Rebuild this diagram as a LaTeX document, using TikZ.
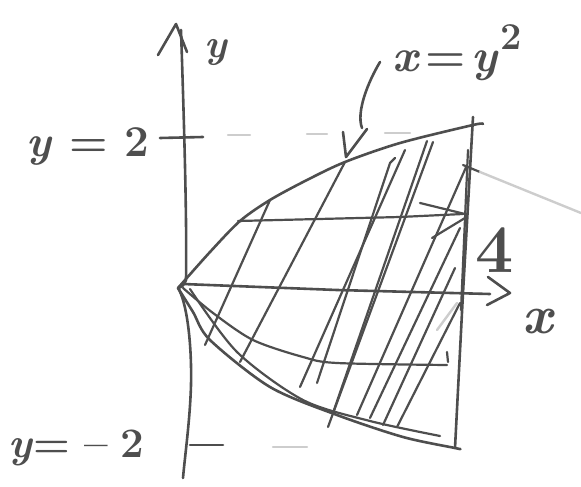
\documentclass[tikz,border=0pt]{standalone}
\definecolor{inkc}{RGB}{78,78,78}
\definecolor{faintc}{RGB}{205,205,205}
\begin{document}
\begin{tikzpicture}[x=1pt,y=-1pt,
  ink/.style={draw=inkc,line width=2.6pt,line cap=round,line join=round},
  hatch/.style={draw=inkc,line width=2.2pt,line cap=round,line join=round},
  faint/.style={draw=faintc,line width=2.4pt,line cap=round},
  lbl/.style={text=inkc,inner sep=0pt,font=\bfseries}]
\useasboundingbox (0,0) rectangle (581,487);
% key points
\coordinate (O) at (178,288);
\coordinate (TR) at (473,125);
\coordinate (BR) at (455,448);
% y axis
\draw[ink] (181,30) .. controls (184,120) and (187,220) .. (186,280)
  .. controls (185,285) and (180,288) .. (O)
  .. controls (186,300) and (192,340) .. (191,385)
  .. controls (190,420) and (185,455) .. (183,478);
\draw[ink] (158,55) -- (176,24) -- (187,52);
% x axis
\draw[ink] (183,284) -- (337,290) -- (490,294);
\draw[ink] (488,277) -- (510,293) -- (487,305);
% ticks and dashes
\draw[ink] (160,138) -- (203,137);
\draw[ink] (190,445) -- (223,445);
\draw[faint] (228,135) -- (250,135);
\draw[faint] (307,134) -- (327,134);
\draw[faint] (385,133) -- (410,133);
\draw[faint] (273,447) -- (307,447);
% parabola x = y^2
\draw[ink] plot[smooth] coordinates {(O) (210,252) (240,221) (270,200) (307,180) (345,162) (400,143) (TR) (483,124)};
\draw[ink] plot[smooth] coordinates {(O) (193,312) (210,340) (270,387) (337,415) (403,437) (BR) (460,449)};
\draw[hatch] plot[smooth] coordinates {(190,289) (237,352) (303,400) (370,421) (440,436)};
% x = 4
\draw[ink] (473,117) -- (463,293) -- (BR);
\draw[hatch] (468,150) -- (461,310);
% horizontal hatch lines
\draw[hatch] (238,221) -- (400,217) -- (463,214);
\draw[hatch] plot[smooth] coordinates {(183,288) (213,313) (253,340) (303,357) (337,363) (447,365)};
% arrow strokes near x=4
\draw[hatch] (420,203) -- (465,214);
\draw[hatch] (432,238) -- (465,218);
% diagonal hatching
\draw[hatch] (205,345) -- (270,200);
\draw[hatch] (240,362) -- (345,162);
\draw[hatch] (300,387) -- (405,150);
\draw[hatch] (317,383) -- (390,163) -- (395,158);
\draw[hatch] (328,427) -- (433,142);
\draw[hatch] (334,410) -- (427,141);
\draw[hatch] (357,415) -- (467,165);
\draw[hatch] (370,418) -- (460,228);
\draw[hatch] (383,425) -- (455,268);
\draw[hatch] (397,427) -- (460,303);
\draw[faint] (437,330) -- (457,303);
\draw[hatch] (447,352) -- (448,362);
% smudge at top right
\draw[hatch] (463,165) -- (480,172);
\draw[faint] (480,172) -- (581,213);
% arrow from label
\draw[ink] (380,62) .. controls (368,82) and (356,112) .. (362,128);
\draw[ink] (343,132) -- (346,157) -- (367,129);
% labels
\node[lbl,anchor=base] (ylab) at (216,58) {\fontsize{40}{44}\selectfont\itshape y};
\node[lbl,anchor=base] (y2) at (88,156) {\fontsize{44}{50}\selectfont\textit{y} = 2};
\node[lbl,anchor=base west] (ym2) at (8,457) {\fontsize{42}{48}\selectfont\textit{y}=\hspace{0.35em}\textendash\hspace{0.3em}2};
\node[lbl,anchor=base] (four) at (495,272) {\fontsize{68}{72}\selectfont 4};
\node[lbl,anchor=base] (xlab) at (538,333) {\fontsize{54}{60}\selectfont\itshape x};
\node[lbl,anchor=base west] (eq) at (392,72) {\fontsize{46}{50}\selectfont\textit{x}\hspace{0.12em}=\hspace{0.12em}\textit{y}\hspace{0.05em}\raisebox{0.5em}{\fontsize{38}{40}\selectfont 2}};
\end{tikzpicture}
\end{document}
